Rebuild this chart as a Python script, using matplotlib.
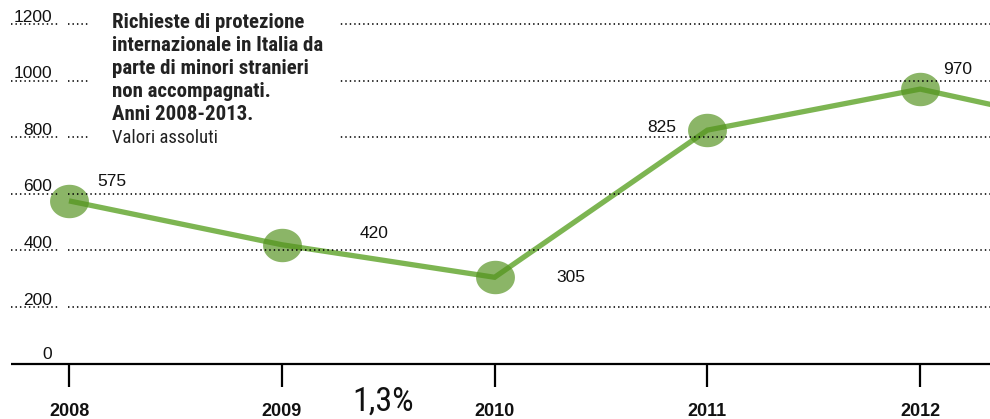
import matplotlib
matplotlib.use("Agg")
import matplotlib.pyplot as plt
from matplotlib import font_manager
from matplotlib.path import Path
import numpy as np

# ---- data ----
years = [2008, 2009, 2010, 2011, 2012, 2013]
values = [575, 420, 305, 825, 970, 806]
value_labels = ["575", "420", "305", "825", "970", ""]
y_ticks = [0, 200, 400, 600, 800, 1000, 1200]
x_ticks = [2008, 2009, 2010, 2011, 2012]
title_lines = ["Richieste di protezione", "internazionale in Italia da",
               "parte di minori stranieri", "non accompagnati.",
               "Anni 2008-2013."]
subtitle = "Valori assoluti"
side_note = "1,3%"

# label offsets in pixels (dx, dy) relative to point, with alignment
label_offsets = [(28, 19, "left"), (78, 11, "left"), (62, 0, "left"),
                 (-31, 3, "right"), (23, 20, "left"), (0, 0, "left")]

W, H, DPI = 990, 419, 100
fig = plt.figure(figsize=(W / DPI, H / DPI), dpi=DPI)
ax = fig.add_axes([0, 0, 1, 1])
ax.set_axis_off()

# pixel mapping
px_per_year = 212.8
x0_px = 69.0
y0_px = 363.6
px_per_val = 0.283
xmin = 2008 - x0_px / px_per_year
xmax = 2008 + (W - x0_px) / px_per_year
ymax = y0_px / px_per_val
ymin = -(H - y0_px) / px_per_val
ax.set_xlim(xmin, xmax)
ax.set_ylim(ymin, ymax)

def px2x(p):
    return xmin + p / px_per_year

def pxdy(p):
    return p / px_per_val

installed = {f.name for f in font_manager.fontManager.ttflist}
narrow_pref = ["Liberation Sans Narrow", "Roboto Condensed", "Open Sans Condensed",
               "DejaVu Sans Condensed", "Roboto", "Lato", "Liberation Sans"]
narrow_name = next((n for n in narrow_pref if n in installed), "DejaVu Sans")
narrow = [narrow_name, "DejaVu Sans"]
normal = ["Liberation Sans", "DejaVu Sans"]

renderer = fig.canvas.get_renderer()

def fit_size(text, target_px, weight, family, base=14.0):
    t = fig.text(0, 0, text, fontsize=base, fontweight=weight, family=family)
    w = t.get_window_extent(renderer=renderer).width
    t.remove()
    return base * target_px / w

# gridlines (dotted, on top)
for v in y_ticks[1:]:
    for a, b in [(11, 58), (68, W)]:
        ax.plot([px2x(a), px2x(b)], [v, v], color="black", lw=1.15,
                linestyle=(0, (0.9, 1.9)), zorder=6, solid_capstyle="butt",
                dash_capstyle="butt")

# y tick labels
for v in y_ticks:
    off = 4.5 if v == 0 else 2.5
    ax.text(px2x(52), v + pxdy(off), str(v), ha="right", va="baseline",
            fontsize=12.5, family=normal, color="#111111", zorder=8)

# axis line and ticks
ax.plot([px2x(11), px2x(W)], [0, 0], color="black", lw=1.6, zorder=7,
        solid_capstyle="butt")
for yr in x_ticks:
    ax.plot([yr, yr], [0, -pxdy(23)], color="black", lw=1.6, zorder=7,
            solid_capstyle="butt")
    ax.text(yr, -pxdy(52.5), str(yr), ha="center", va="baseline",
            fontsize=13, fontweight="bold", family=normal, color="#111111")

# line
ax.plot(years, values, color="#7db552", lw=3.8, zorder=3,
        solid_joinstyle="miter", solid_capstyle="butt")

# ellipse markers
t = np.linspace(0, 2 * np.pi, 64)
verts = np.column_stack([np.cos(t), 0.86 * np.sin(t)])
ell = Path(verts, closed=True)
ax.plot(years, values, linestyle="none", marker=ell, markersize=28,
        markerfacecolor="#54931f", markeredgewidth=0, alpha=0.68, zorder=4)

# value labels
for yr, v, lab, (dx, dy, ha) in zip(years, values, value_labels, label_offsets):
    if not lab:
        continue
    ax.annotate(lab, (yr, v), xytext=(dx * 0.72, dy * 0.72),
                textcoords="offset points", ha=ha, va="center",
                fontsize=12.5, family=normal, color="#111111", zorder=8)

# title box (white background covering gridlines)
ax.add_patch(plt.Rectangle((px2x(90), pxdy(y0_px - 152)),
                           (338 - 90) / px_per_year, pxdy(150),
                           facecolor="white", edgecolor="none", zorder=7))
title_size = fit_size(title_lines[0], 193, "bold", narrow)
sub_size = fit_size(subtitle, 106, "normal", narrow)
base = 27.5
for i, line in enumerate(title_lines):
    ax.text(px2x(112), pxdy(y0_px - (base + 23.1 * i)), line, ha="left",
            va="baseline", fontsize=title_size, fontweight="bold", family=narrow,
            color="#222222", zorder=9)
ax.text(px2x(112), pxdy(y0_px - (base + 23.1 * 5)), subtitle, ha="left",
        va="baseline", fontsize=sub_size, family=narrow, color="#222222", zorder=9)

# side note
note_size = fit_size(side_note, 62, "normal", narrow)
ax.text(px2x(352), -pxdy(411 - y0_px), side_note, ha="left", va="baseline",
        fontsize=note_size, family=narrow, color="#111111", zorder=9)

fig.savefig("out.png", dpi=DPI)
